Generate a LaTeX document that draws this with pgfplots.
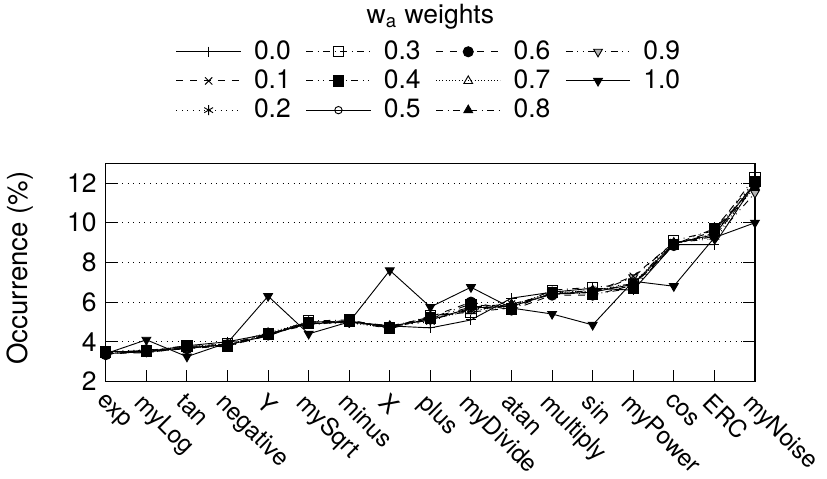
\documentclass[border=0pt]{standalone}
\usepackage{fontspec}
\setmainfont{TeX Gyre Heros}
\usepackage{pgfplots}
\pgfplotsset{compat=1.18}

% occurrence (%) of each primitive, one column per w_a weight
\begin{document}
\fontsize{11.5}{14}\selectfont
\begin{tikzpicture}
\begin{axis}[
    scale only axis,
    width=282pt, height=94.8pt,
    clip=false,
    xmin=0, xmax=16, ymin=2, ymax=13,
    xtick={0,...,16},
    xticklabels={exp,myLog,tan,negative,Y,mySqrt,minus,X,plus,myDivide,atan,multiply,sin,myPower,cos,ERC,myNoise},
    xticklabel style={rotate=-45, anchor=north west, inner sep=1pt, xshift=2pt, yshift=-2pt,
      font=\fontsize{10.5}{12}\selectfont},
    ytick={2,4,...,12},
    /pgf/number format/assume math mode=true,
    xtick pos=left,
    ytick pos=both,
    tick align=inside,
    major tick length=5pt,
    tick style={black, line width=0.4pt},
    ymajorgrids,
    grid style={black, dotted, line width=0.4pt},
    axis line style={line width=0.6pt},
    ylabel={Occurrence (\%)},
    every axis y label/.style={at={(rel axis cs:-0.132,0.52)}, rotate=90, anchor=center,
      font=\fontsize{12}{14}\selectfont},
    every axis plot/.append style={black, line width=0.4pt, mark size=2.2pt},
    legend image code/.code={\draw[mark repeat=2,mark phase=2,#1] plot coordinates {(0pt,0pt) (14pt,0pt) (28pt,0pt)};},
    legend style={at={(0.5,1.377)}, anchor=center, draw=none, fill=none,
      legend columns=4, row sep=-1.2pt,
      /tikz/every odd column/.append style={column sep=3.5pt},
      /tikz/every even column/.append style={column sep=4.5pt}},
    legend cell align=left,
  ]

  % legend is filled row by row: 0.0 0.3 0.6 0.9 / 0.1 0.4 0.7 1.0 / 0.2 0.5 0.8
  \addplot[solid, mark=+] coordinates {
    (0,3.5) (1,3.5) (2,3.8) (3,4.0) (4,4.4) (5,4.9) (6,5.0) (7,4.8) (8,4.7)
    (9,5.1) (10,6.2) (11,6.5) (12,6.7) (13,6.6) (14,8.9) (15,8.9) (16,12.0)};
  \addlegendentry{0.0}
  \addplot[dashdotted, mark=square, mark options={solid}] coordinates {
    (0,3.45) (1,3.5) (2,3.75) (3,3.9) (4,4.35) (5,5.05) (6,5.1) (7,4.7) (8,5.3)
    (9,5.5) (10,5.7) (11,6.6) (12,6.75) (13,6.9) (14,9.1) (15,9.6) (16,12.3)};
  \addlegendentry{0.3}
  \addplot[dashed, mark=*, mark options={solid}] coordinates {
    (0,3.35) (1,3.6) (2,3.65) (3,3.8) (4,4.35) (5,4.95) (6,5.0) (7,4.75) (8,5.25)
    (9,6.0) (10,5.6) (11,6.35) (12,6.35) (13,6.85) (14,8.85) (15,9.6) (16,11.9)};
  \addlegendentry{0.6}
  \addplot[dashdotdotted, mark=triangle*, mark options={solid, rotate=180, fill=gray!60}] coordinates {
    (0,3.4) (1,3.5) (2,3.65) (3,3.9) (4,4.35) (5,5.0) (6,5.0) (7,4.75) (8,5.1)
    (9,5.65) (10,5.75) (11,6.5) (12,6.45) (13,7.25) (14,9.0) (15,9.2) (16,11.5)};
  \addlegendentry{0.9}

  \addplot[dashed, mark=x, mark options={solid}] coordinates {
    (0,3.4) (1,3.45) (2,3.7) (3,3.8) (4,4.3) (5,5.0) (6,5.05) (7,4.7) (8,5.2)
    (9,5.6) (10,5.9) (11,6.4) (12,6.5) (13,7.3) (14,9.0) (15,9.3) (16,11.9)};
  \addlegendentry{0.1}
  \addplot[dashdotdotted, mark=square*, mark options={solid}] coordinates {
    (0,3.5) (1,3.55) (2,3.8) (3,3.75) (4,4.4) (5,4.95) (6,5.05) (7,4.65) (8,5.2)
    (9,5.9) (10,5.65) (11,6.5) (12,6.4) (13,6.7) (14,8.9) (15,9.7) (16,12.1)};
  \addlegendentry{0.4}
  \addplot[densely dotted, mark=triangle, mark options={solid}] coordinates {
    (0,3.45) (1,3.55) (2,3.75) (3,3.9) (4,4.45) (5,5.0) (6,4.95) (7,4.7) (8,5.15)
    (9,5.55) (10,5.85) (11,6.5) (12,6.55) (13,6.95) (14,9.0) (15,9.3) (16,11.8)};
  \addlegendentry{0.7}
  \addplot[solid, mark=triangle*, mark options={rotate=180}] coordinates {
    (0,3.4) (1,4.1) (2,3.25) (3,3.95) (4,6.3) (5,4.4) (6,5.0) (7,7.6) (8,5.75)
    (9,6.75) (10,5.7) (11,5.4) (12,4.85) (13,7.05) (14,6.8) (15,9.25) (16,10.0)};
  \addlegendentry{1.0}

  \addplot[dotted, mark=asterisk, mark options={solid}] coordinates {
    (0,3.5) (1,3.6) (2,3.65) (3,3.85) (4,4.4) (5,4.9) (6,4.95) (7,4.8) (8,5.0)
    (9,5.8) (10,5.75) (11,6.45) (12,6.6) (13,6.8) (14,8.9) (15,9.5) (16,12.1)};
  \addlegendentry{0.2}
  \addplot[solid, mark=o, mark size=1.6pt] coordinates {
    (0,3.4) (1,3.5) (2,3.7) (3,3.85) (4,4.3) (5,5.0) (6,5.0) (7,4.8) (8,5.1)
    (9,5.7) (10,5.8) (11,6.4) (12,6.5) (13,6.9) (14,8.95) (15,9.4) (16,12.0)};
  \addlegendentry{0.5}
  \addplot[dashdotted, mark=triangle*, mark options={solid}] coordinates {
    (0,3.5) (1,3.45) (2,3.7) (3,3.85) (4,4.4) (5,4.85) (6,5.05) (7,4.8) (8,5.2)
    (9,5.75) (10,5.9) (11,6.4) (12,6.6) (13,6.85) (14,8.95) (15,9.45) (16,12.0)};
  \addlegendentry{0.8}

  \node at (rel axis cs:0.5,1.67) {w\textsubscript{a} weights};
  % corners of the reference's page
  \coordinate (bl) at (rel axis cs:-0.163,-0.445);
  \coordinate (tr) at (rel axis cs:1.111,1.748);
\end{axis}
\pgfresetboundingbox
\path[use as bounding box] (bl) rectangle (tr);
\end{tikzpicture}
\end{document}
